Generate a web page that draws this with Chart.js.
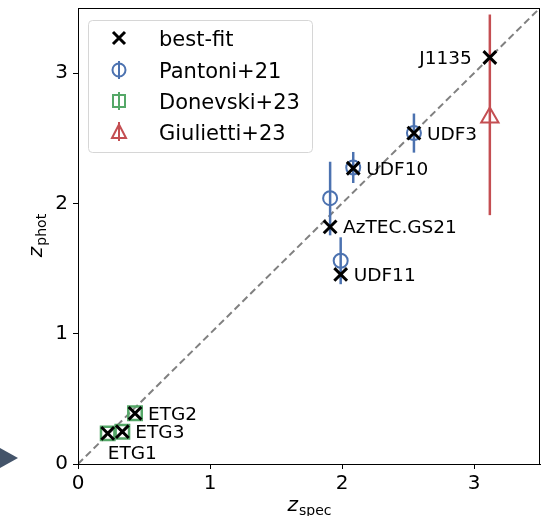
<!DOCTYPE html>
<html lang="en">
<head>
  <meta charset="UTF-8">
  <title>zphot vs zspec</title>
  <style>
    body { margin: 0; background: white; }
    canvas { display: block; }
  </style>
</head>
<body>
  <canvas id="myChart" width="541" height="516"></canvas>

  <script src="https://cdn.jsdelivr.net/npm/chart.js"></script>
  <script>
    // ---- data ----
    const xTicks = [0, 1, 2, 3];
    const yTicks = [0, 1, 2, 3];
    const axisRange = [0, 3.5];

    const bestNames = ['ETG1', 'ETG3', 'ETG2', 'AzTEC.GS21', 'UDF11', 'UDF10', 'UDF3', 'J1135'];
    const bestSpec  = [0.225, 0.336, 0.432, 1.91, 1.99, 2.085, 2.545, 3.12];
    const bestPhot  = [0.235, 0.248, 0.389, 1.82, 1.455, 2.27, 2.54, 3.12];

    const pantoniSpec = [1.91, 1.99, 2.085, 2.545];
    const pantoniPhot = [2.04, 1.56, 2.275, 2.54];
    const pantoniLo   = [1.755, 1.38, 2.157, 2.39];
    const pantoniHi   = [2.32, 1.74, 2.395, 2.69];

    const donevskiSpec = [0.225, 0.336, 0.432];
    const donevskiPhot = [0.235, 0.248, 0.389];

    const giuliettiSpec = [3.12];
    const giuliettiPhot = [2.66];
    const giuliettiLo   = [1.91];
    const giuliettiHi   = [3.45];

    const legendLabels = ['best-fit', 'Pantoni+21', 'Donevski+23', 'Giulietti+23'];

    const BLUE = '#4c72b0', GREEN = '#55a868', RED = '#c44e52';
    const FONT = "'DejaVu Sans', sans-serif";

    const toPts = (xs, ys) => xs.map((x, i) => ({ x, y: ys[i] }));

    // vertical error bars, drawn just under each dataset's markers
    const errorBars = {
      id: 'errorBars',
      beforeDatasetDraw(chart, args) {
        const ds = chart.data.datasets[args.index];
        if (!ds.errLo) return;
        const { ctx, scales: { x, y } } = chart;
        ctx.save();
        ctx.strokeStyle = ds.borderColor;
        ctx.lineWidth = ds.errWidth || 2;
        ds.data.forEach((p, i) => {
          const px = x.getPixelForValue(p.x);
          ctx.beginPath();
          ctx.moveTo(px, y.getPixelForValue(ds.errLo[i]));
          ctx.lineTo(px, y.getPixelForValue(ds.errHi[i]));
          ctx.stroke();
        });
        ctx.restore();
      }
    };

    // names next to the best-fit crosses
    const labelPlace = { ETG1: 'below', J1135: 'left' };
    const pointNames = {
      id: 'pointNames',
      afterDatasetsDraw(chart) {
        const { ctx } = chart;
        const meta = chart.getDatasetMeta(0);
        ctx.save();
        ctx.font = '18.5px ' + FONT;
        ctx.fillStyle = '#000';
        ctx.textBaseline = 'alphabetic';
        meta.data.forEach((el, i) => {
          const name = bestNames[i];
          const where = labelPlace[name] || 'right';
          if (where === 'right') {
            ctx.textAlign = 'left';
            ctx.fillText(name, el.x + 13, el.y + 6.5);
          } else if (where === 'left') {
            ctx.textAlign = 'right';
            ctx.fillText(name, el.x - 18, el.y + 6.5);
          } else {
            ctx.textAlign = 'left';
            ctx.fillText(name, el.x, el.y + 26);
          }
        });
        ctx.restore();
      }
    };

    function roundRect(ctx, x, y, w, h, r) {
      ctx.beginPath();
      ctx.moveTo(x + r, y);
      ctx.arcTo(x + w, y, x + w, y + h, r);
      ctx.arcTo(x + w, y + h, x, y + h, r);
      ctx.arcTo(x, y + h, x, y, r);
      ctx.arcTo(x, y, x + w, y, r);
      ctx.closePath();
    }

    const decor = {
      id: 'decor',
      afterDraw(chart) {
        const { ctx, chartArea: a } = chart;
        ctx.save();

        // frame
        ctx.strokeStyle = '#000';
        ctx.lineWidth = 1;
        ctx.strokeRect(Math.round(a.left) + 0.5, Math.round(a.top) + 0.5,
                       Math.round(a.right - a.left) - 1, Math.round(a.bottom - a.top));

        // legend box
        roundRect(ctx, 88.5, 20.5, 224, 132, 4);
        ctx.fillStyle = 'rgba(255,255,255,0.8)';
        ctx.fill();
        ctx.strokeStyle = '#d6d6d6';
        ctx.stroke();

        const mx = 119, rows = [38, 70, 101, 132];
        // cross
        ctx.strokeStyle = '#000';
        ctx.lineWidth = 3;
        ctx.beginPath();
        ctx.moveTo(mx - 6, rows[0] - 6); ctx.lineTo(mx + 6, rows[0] + 6);
        ctx.moveTo(mx + 6, rows[0] - 6); ctx.lineTo(mx - 6, rows[0] + 6);
        ctx.stroke();
        // circle
        ctx.lineWidth = 2;
        ctx.strokeStyle = BLUE;
        ctx.beginPath(); ctx.moveTo(mx, rows[1] - 9); ctx.lineTo(mx, rows[1] + 9); ctx.stroke();
        ctx.beginPath(); ctx.arc(mx, rows[1], 6.5, 0, Math.PI * 2); ctx.stroke();
        // square
        ctx.strokeStyle = GREEN;
        ctx.beginPath(); ctx.moveTo(mx, rows[2] - 9); ctx.lineTo(mx, rows[2] + 9); ctx.stroke();
        ctx.strokeRect(mx - 6, rows[2] - 6, 12, 12);
        // triangle
        ctx.strokeStyle = RED;
        ctx.beginPath(); ctx.moveTo(mx, rows[3] - 10); ctx.lineTo(mx, rows[3] + 9); ctx.stroke();
        ctx.beginPath();
        ctx.moveTo(mx, rows[3] - 7.5);
        ctx.lineTo(mx + 7, rows[3] + 6);
        ctx.lineTo(mx - 7, rows[3] + 6);
        ctx.closePath();
        ctx.stroke();

        ctx.fillStyle = '#000';
        ctx.font = '21px ' + FONT;
        ctx.textAlign = 'left';
        ctx.textBaseline = 'alphabetic';
        legendLabels.forEach((t, i) => ctx.fillText(t, 159, rows[i] + 7.5));

        // axis titles with subscripts
        const cx = (a.left + a.right) / 2;
        const cy = (a.top + a.bottom) / 2;
        drawSub(ctx, 'z', 'spec', cx, 511);
        ctx.translate(42, cy);
        ctx.rotate(-Math.PI / 2);
        drawSub(ctx, 'z', 'phot', 0, 0);
        ctx.setTransform(1, 0, 0, 1, 0, 0);

        // small arrow at the left margin
        ctx.fillStyle = '#44546a';
        ctx.beginPath();
        ctx.moveTo(0, 448); ctx.lineTo(18, 458); ctx.lineTo(0, 468);
        ctx.closePath();
        ctx.fill();

        ctx.restore();
      }
    };

    function drawSub(ctx, main, sub, cx, base) {
      ctx.textBaseline = 'alphabetic';
      ctx.textAlign = 'left';
      const fMain = 'italic 20px ' + FONT, fSub = '14px ' + FONT;
      ctx.font = fMain; const w1 = ctx.measureText(main).width;
      ctx.font = fSub;  const w2 = ctx.measureText(sub).width;
      const x0 = cx - (w1 + w2) / 2;
      ctx.fillStyle = '#000';
      ctx.font = fMain; ctx.fillText(main, x0, base);
      ctx.font = fSub;  ctx.fillText(sub, x0 + w1 + 1, base + 4);
    }

    const tickFont = { family: FONT, size: 20 };

    new Chart(document.getElementById('myChart'), {
      type: 'scatter',
      data: {
        datasets: [
          {
            label: legendLabels[0],
            data: toPts(bestSpec, bestPhot),
            pointStyle: 'crossRot',
            radius: 9,
            borderWidth: 3,
            borderColor: '#000'
          },
          {
            label: legendLabels[3],
            data: toPts(giuliettiSpec, giuliettiPhot),
            pointStyle: 'triangle',
            radius: 10,
            borderWidth: 2,
            borderColor: RED,
            backgroundColor: 'rgba(0,0,0,0)',
            errLo: giuliettiLo,
            errHi: giuliettiHi,
            errWidth: 2.5
          },
          {
            label: legendLabels[2],
            data: toPts(donevskiSpec, donevskiPhot),
            pointStyle: 'rect',
            radius: 9.5,
            borderWidth: 2.5,
            borderColor: GREEN,
            backgroundColor: 'rgba(0,0,0,0)'
          },
          {
            label: legendLabels[1],
            data: toPts(pantoniSpec, pantoniPhot),
            pointStyle: 'circle',
            radius: 7,
            borderWidth: 2,
            borderColor: BLUE,
            backgroundColor: 'rgba(0,0,0,0)',
            errLo: pantoniLo,
            errHi: pantoniHi,
            errWidth: 2.5
          },
          {
            type: 'line',
            label: 'one-to-one',
            data: toPts(axisRange, axisRange),
            borderColor: '#808080',
            borderWidth: 2,
            borderDash: [7, 4],
            pointRadius: 0,
            fill: false
          }
        ]
      },
      options: {
        responsive: false,
        animation: false,
        layout: { autoPadding: false, padding: { top: 8, right: 1, left: 0, bottom: 0 } },
        plugins: {
          legend: { display: false },
          tooltip: { enabled: false }
        },
        scales: {
          x: {
            type: 'linear',
            min: axisRange[0], max: axisRange[1],
            afterBuildTicks: s => { s.ticks = xTicks.map(v => ({ value: v })); },
            afterFit: s => { s.height = 52; s.paddingLeft = 0; s.paddingRight = 0; },
            ticks: { font: tickFont, color: '#000', padding: 3, maxRotation: 0 },
            grid: { drawOnChartArea: false, drawTicks: true, tickLength: 5, color: '#000' },
            border: { color: '#000', width: 1 }
          },
          y: {
            type: 'linear',
            min: axisRange[0], max: axisRange[1],
            afterBuildTicks: s => { s.ticks = yTicks.map(v => ({ value: v })); },
            afterFit: s => { s.width = 78; s.paddingTop = 0; s.paddingBottom = 0; },
            ticks: { font: tickFont, color: '#000', padding: 5 },
            grid: { drawOnChartArea: false, drawTicks: true, tickLength: 5, color: '#000' },
            border: { color: '#000', width: 1 }
          }
        }
      },
      plugins: [errorBars, pointNames, decor]
    });
  </script>
</body>
</html>
